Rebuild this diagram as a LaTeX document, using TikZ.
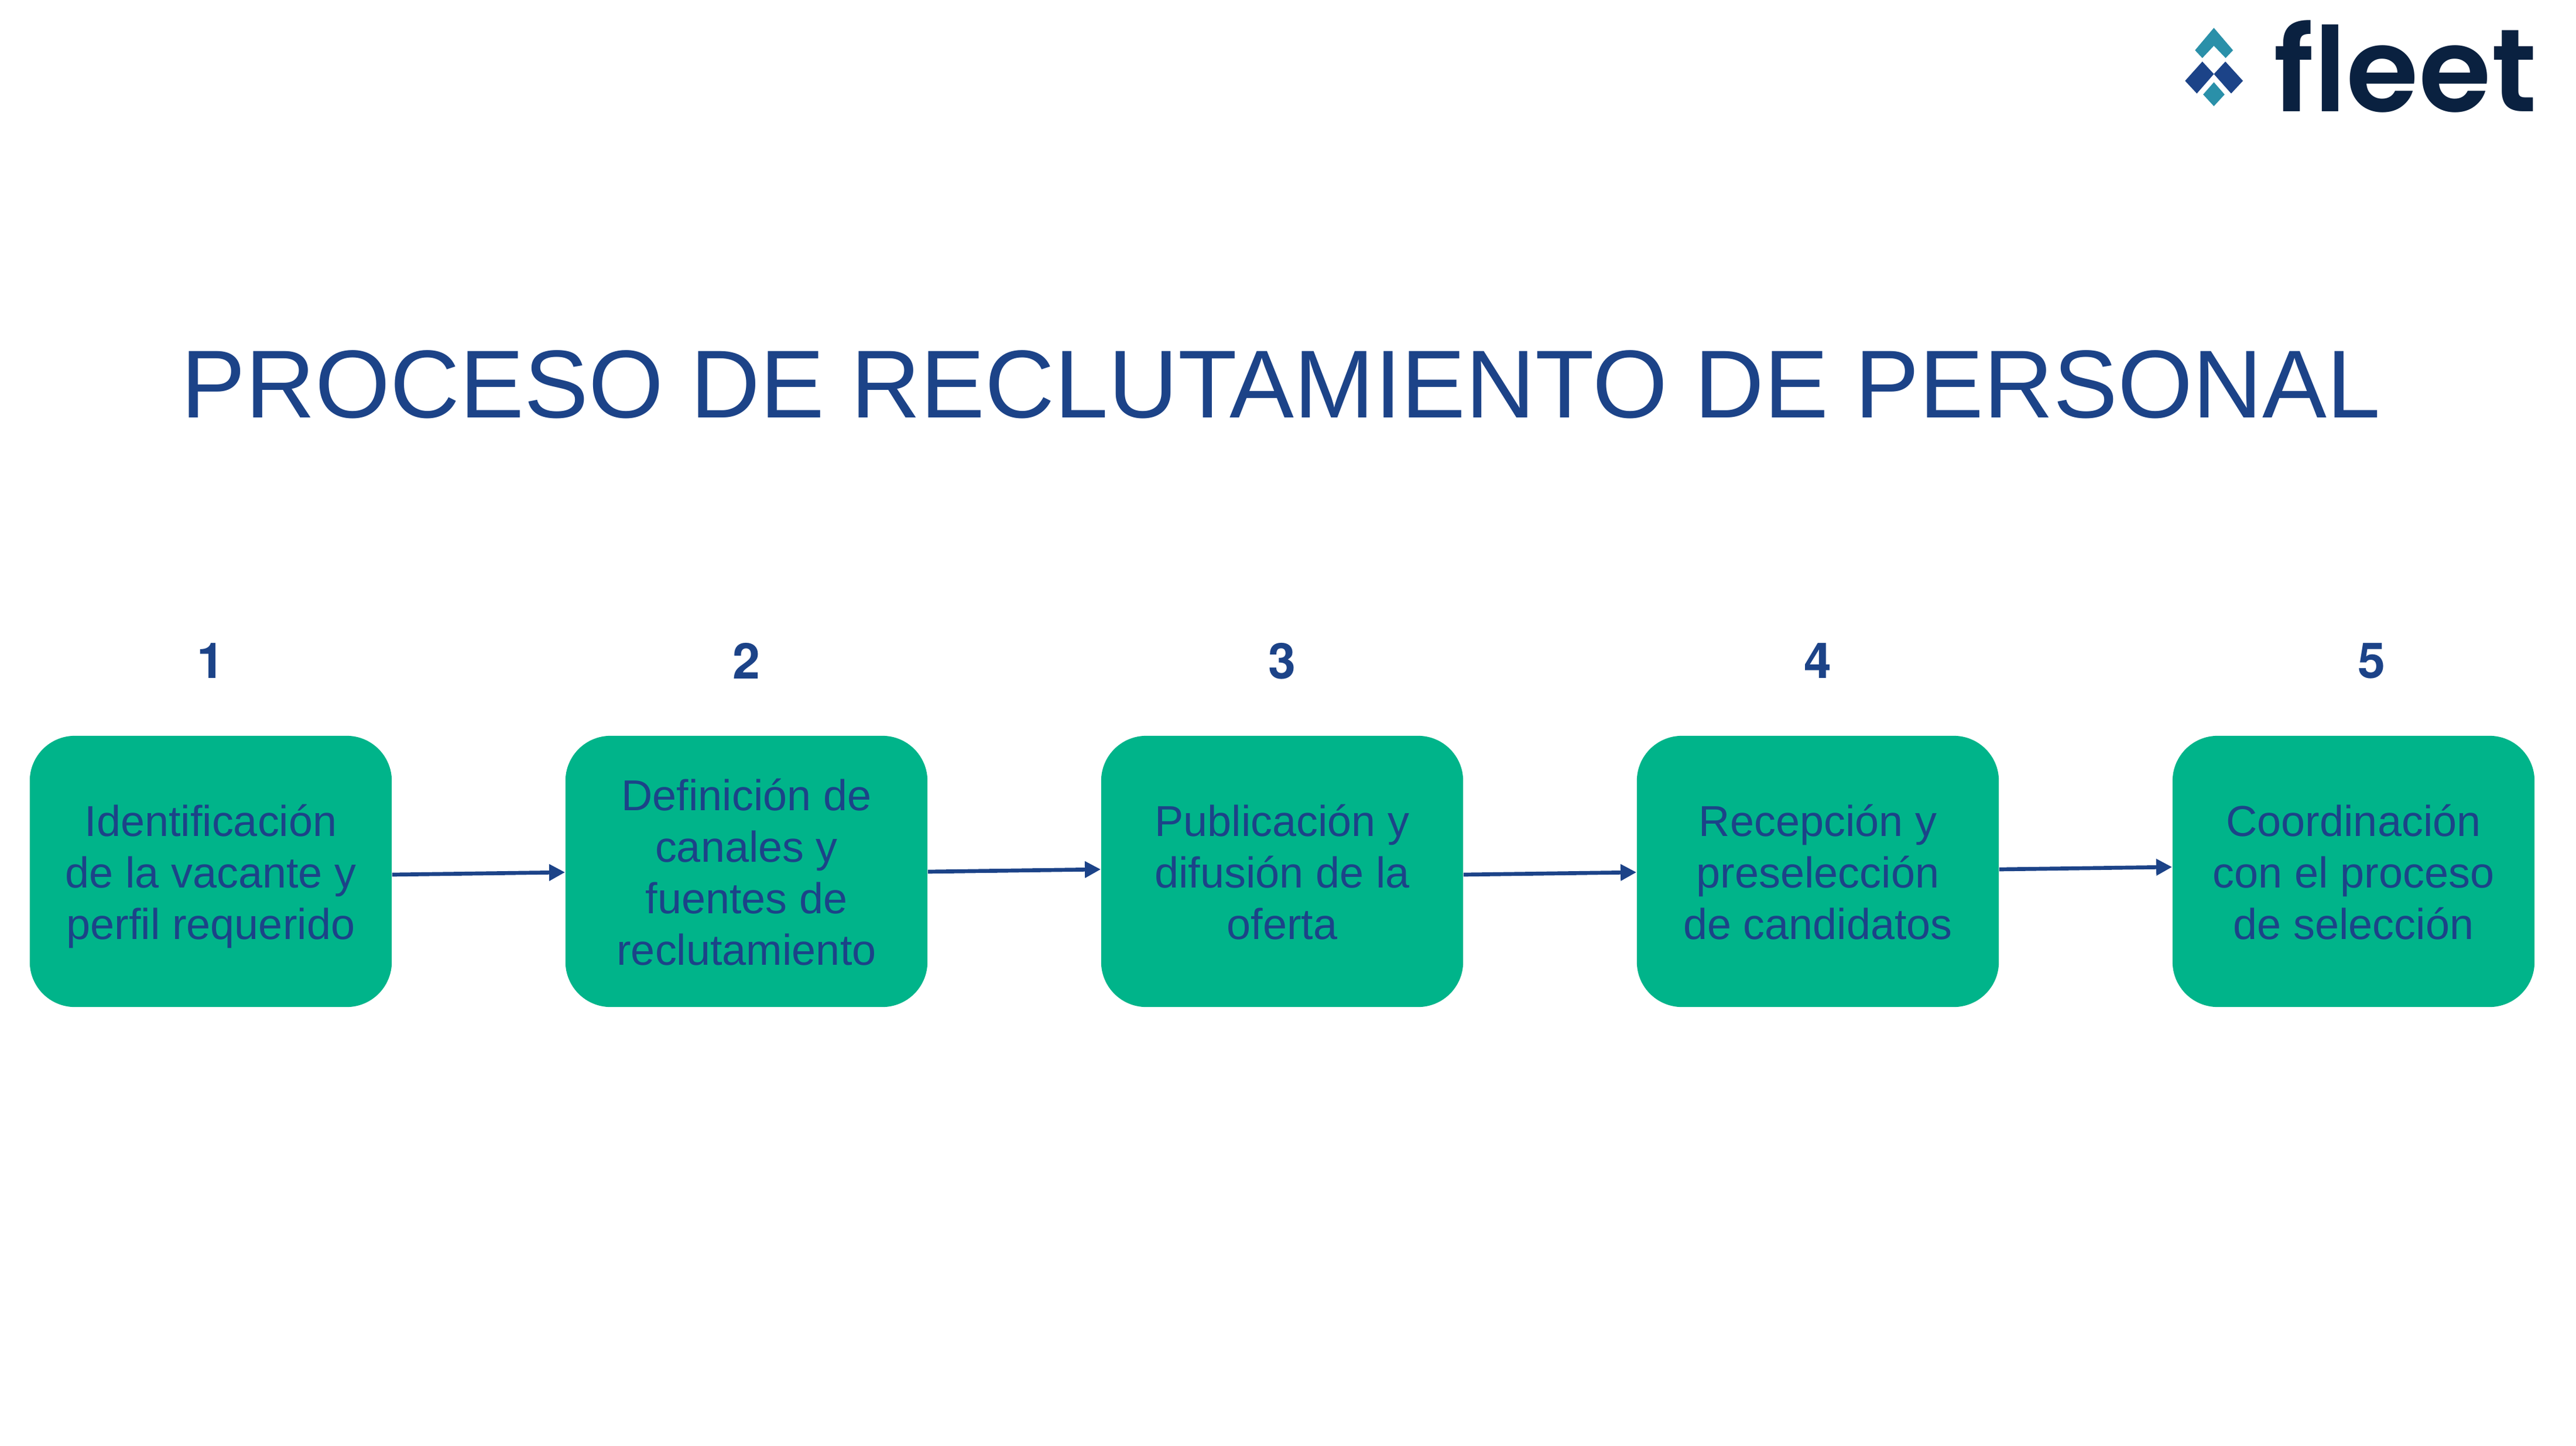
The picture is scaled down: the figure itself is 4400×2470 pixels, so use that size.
\documentclass[tikz,border=0pt]{standalone}
\usepackage{fontspec}
\setmainfont{Liberation Sans}
\newfontfamily\logofont{Poppins SemiBold}
\newfontfamily\numfont{TeX Gyre Heros}
\usetikzlibrary{arrows.meta}
\definecolor{navy}{HTML}{1C4388}
\definecolor{boxgreen}{HTML}{00B48A}
\definecolor{teal}{HTML}{2A90A9}
\definecolor{logoink}{HTML}{0A2140}
\newcommand{\vb}{\rule[-4.5pt]{0pt}{25pt}}
\tikzset{
  stepbox/.style={fill=boxgreen,rounded corners=0.77cm,minimum width=6.18cm,minimum height=4.63cm,inner sep=0pt,align=center,text=navy,font=\fontsize{21}{25}\selectfont},
  stepnum/.style={text=navy,font=\numfont\bfseries\fontsize{24}{28}\selectfont,inner sep=0pt},
  conn/.style={draw=navy,line width=1.9pt,-{Triangle[length=7.7pt,width=7.7pt]}}
}
\begin{document}
\begin{tikzpicture}[x=0.01cm,y=-0.01cm]
\useasboundingbox (0,0) rectangle (4400,2470);
\fill[white] (0,0) rectangle (4400,2470);
\node[text=navy,inner sep=0pt,anchor=base,font=\fontsize{46.85}{56}\selectfont] (title) at (2188,713) {PROCESO DE RECLUTAMIENTO DE PERSONAL};
\node[stepbox] (b1) at (360,1488.5) {\vb Identificación\\de la vacante y\\\vb perfil requerido};
\node[stepbox] (b2) at (1275,1488.5) {\vb Definición de\\canales y\\fuentes de\\\vb reclutamiento};
\node[stepbox] (b3) at (2190,1488.5) {\vb Publicación y\\difusión de la\\\vb oferta};
\node[stepbox] (b4) at (3105,1488.5) {\vb Recepción y\\preselección\\\vb de candidatos};
\node[stepbox] (b5) at (4020,1488.5) {\vb Coordinación\\con el proceso\\\vb de selección};
\node[stepnum] (n1) at (360,1129) {1};
\node[stepnum] (n2) at (1275,1129) {2};
\node[stepnum] (n3) at (2190,1129) {3};
\node[stepnum] (n4) at (3105,1129) {4};
\node[stepnum] (n5) at (4051,1129) {5};
\draw[conn] ([yshift=-0.055cm]b1.east) -- ([yshift=-0.015cm]b2.west);
\draw[conn] ([yshift=-0.005cm]b2.east) -- ([yshift=0.035cm]b3.west);
\draw[conn] ([yshift=-0.055cm]b3.east) -- ([yshift=-0.015cm]b4.west);
\draw[conn] ([yshift=0.035cm]b4.east) -- ([yshift=0.075cm]b5.west);
\begin{scope}[shift={(3700,0)},x=0.004464cm,y=-0.003333cm]
\fill[teal] (182,143) -- (255,258) -- (227,298) -- (182,235) -- (138,298) -- (110,258) -- cycle;
\fill[navy] (138,316) -- (182,380) -- (117,480) -- (72,415) -- cycle;
\fill[navy] (226,316) -- (293,415) -- (248,480) -- (182,380) -- cycle;
\fill[teal] (182,422) -- (223,485) -- (182,545) -- (141,485) -- cycle;
\end{scope}
\node[text=logoink,inner sep=0pt,anchor=base,font=\logofont\fontsize{57}{57}\selectfont] (logo) at (4108,191) {fleet};
\end{tikzpicture}
\end{document}
